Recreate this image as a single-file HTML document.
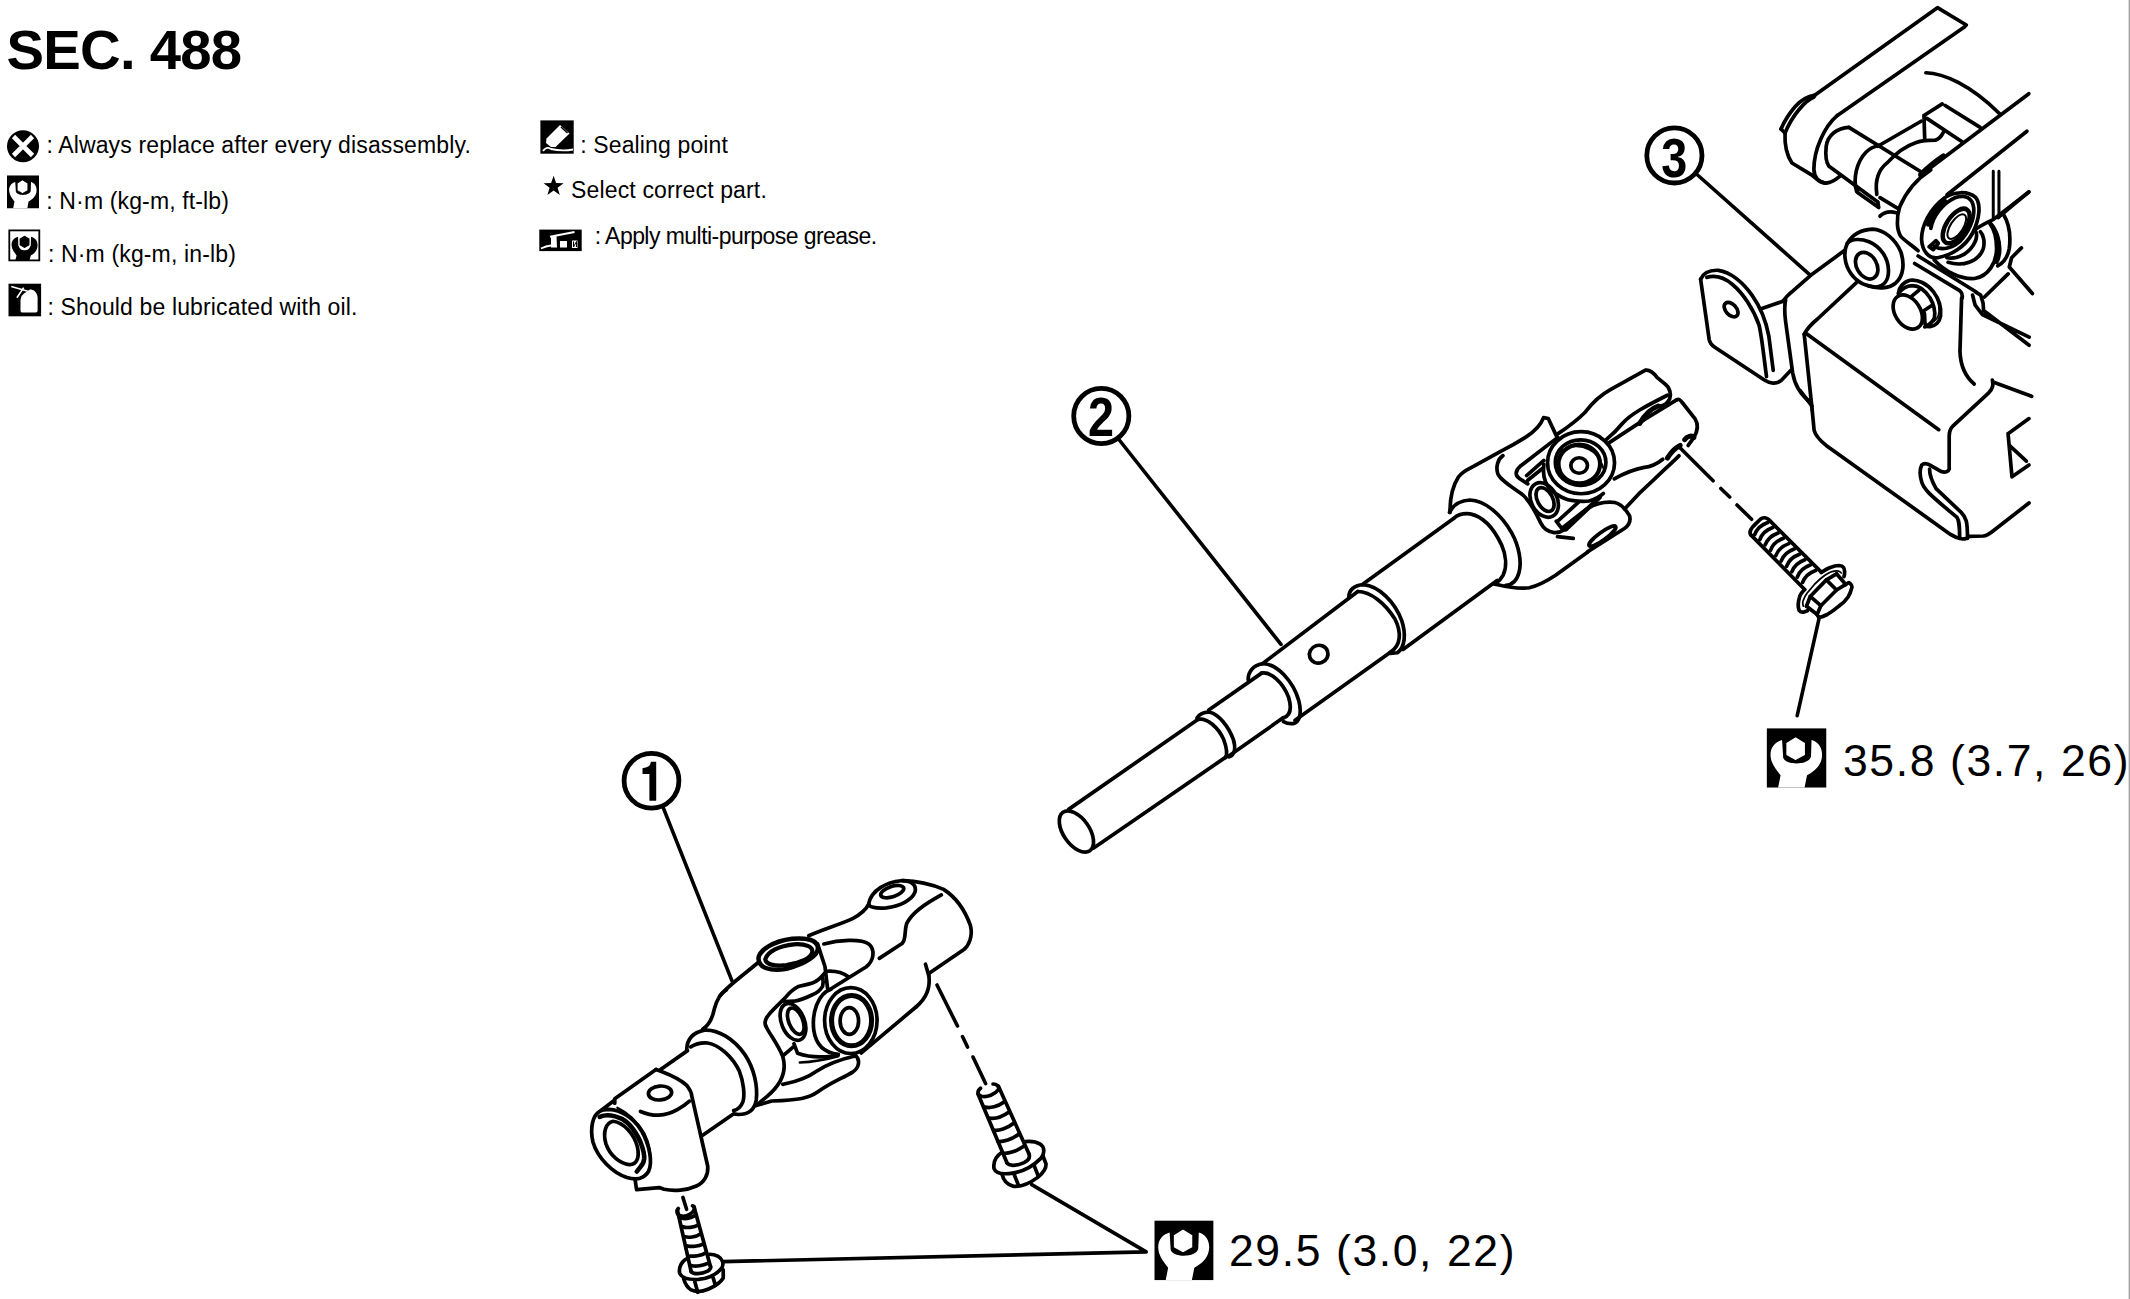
<!DOCTYPE html>
<html><head><meta charset="utf-8">
<style>
html,body{margin:0;padding:0;background:#fff;}
body{width:2130px;height:1299px;overflow:hidden;position:relative;font-family:"Liberation Sans",sans-serif;color:#000;}
.t{position:absolute;white-space:nowrap;line-height:1;}
.lg{font-size:23px;letter-spacing:0.14px;}
svg{position:absolute;left:0;top:0;}
</style></head><body>
<div class="t" style="left:6.6px;top:22px;font-size:56.3px;font-weight:bold;letter-spacing:-0.8px;">SEC. 488</div>
<div class="t lg" style="left:46.4px;top:134.3px;">: Always replace after every disassembly.</div>
<div class="t lg" style="left:46.3px;top:189.5px;">: N·m (kg-m, ft-lb)</div>
<div class="t lg" style="left:48px;top:243.3px;">: N·m (kg-m, in-lb)</div>
<div class="t lg" style="left:47.5px;top:295.6px;">: Should be lubricated with oil.</div>
<div class="t lg" style="left:580.2px;top:134.3px;">: Sealing point</div>
<div class="t lg" style="left:571.1px;top:178.8px;">Select correct part.</div>
<div class="t" style="left:594.7px;top:224.9px;font-size:23px;letter-spacing:-0.55px;">: Apply multi-purpose grease.</div>
<div class="t" style="left:1229px;top:1229px;font-size:44.5px;letter-spacing:1.6px;">29.5 (3.0, 22)</div>
<div class="t" style="left:1843px;top:738.5px;font-size:44.5px;letter-spacing:1.6px;">35.8 (3.7, 26)</div>
<svg width="2130" height="1299" viewBox="0 0 2130 1299">
<defs>
<symbol id="wr" viewBox="0 0 60 60" preserveAspectRatio="none">
<rect width="60" height="60" fill="#000"/>
<path fill="#fff" d="M15.5,12 C8,14 3.5,20 4,28 C4.5,36 10,42 14,47.5 L11.5,60 L38,60 L40.5,47.5 C47,44 55,38 55.5,28 C56,20 52,14 45,12 L44.5,28 C44,33 37,35.5 30,35.5 C23,35.5 16,33 16.5,28 Z"/>
<path fill="#fff" stroke="#000" stroke-width="1.6" d="M29,8.3 L39.2,14.4 L39.2,27.4 L29,32.9 L19,27.4 L19,14.4 Z"/>
</symbol>
<symbol id="wri" viewBox="0 0 60 60" preserveAspectRatio="none">
<path fill="#000" d="M17,11 C8,13 3.5,20 4,28 C4.5,36 10,42 14,47.5 L11.5,57 L40,57 L42.5,47.5 C49,44 56,38 56,28 C56.5,20 52,13 43,11 L42,27 C41.5,34 36,37.5 30,37.5 C24,37.5 18.5,34 18,27 Z"/>
<path fill="#000" stroke="#fff" stroke-width="2.2" d="M30,7.5 L41,14 L41,28 L30,34.5 L19,28 L19,14 Z"/>
</symbol>
</defs>
<g id="legend">
<circle cx="23" cy="146.2" r="16" fill="#000"/>
<path d="M13.5,136.5 L32.5,155.5 M32.5,136.5 L13.5,155.5" stroke="#fff" stroke-width="4.6"/>
<use href="#wr" x="7" y="175.3" width="32" height="33.2"/>
<rect x="9.3" y="230.4" width="30" height="30" fill="#fff" stroke="#000" stroke-width="1.8"/>
<use href="#wri" x="9.6" y="231.1" width="29.9" height="30.8"/>
<rect x="8.5" y="283.7" width="32.6" height="32.6" fill="#000"/>
<path fill="#fff" d="M20.5,300 L20.5,311 Q20.8,312.6 22.5,312.6 L35.8,312.6 Q37.6,312.6 37.6,310.8 L37.6,297.5 Q37.2,293 34,290.5 L30.5,289.2 L24,293.5 L21.5,296 Z"/>
<path d="M11.3,286.6 L30.4,292 M16.9,297.7 L23.7,287.6" stroke="#fff" stroke-width="1.6" fill="none"/>
<rect x="540.4" y="120.4" width="33.3" height="33.3" fill="#000"/>
<path fill="#fff" d="M546.5,138.5 L560,125 L569.5,133.5 L555.5,147 L551,147 L546,143 Z"/>
<path d="M561,127 L567.5,133" stroke="#000" stroke-width="1.4"/>
<path d="M543,151 Q546,146 551,149 Q562,151.5 573,149.5" stroke="#fff" stroke-width="1.8" fill="none"/>
<path fill="#000" d="M553.6,175.8 L556.1,183 L563.6,183.2 L557.6,187.8 L559.8,195 L553.6,190.6 L547.4,195 L549.6,187.8 L543.6,183.2 L551.1,183 Z"/>
<rect x="539.3" y="229.6" width="42.4" height="21.5" fill="#000"/>
<path d="M550,236.8 L574.5,232" stroke="#fff" stroke-width="2" fill="none"/>
<path fill="#fff" d="M551,237 L556.5,236 L557,247.5 L551,247.5 Z M560,241 L567,241 L567,247.5 L560,247.5 Z M572,240.5 L577.5,240.5 L577.5,248 L572,248 Z"/>
<path d="M541,248.5 Q546,246 551,245.5" stroke="#fff" stroke-width="1.8" fill="none"/>
<path d="M573.5,241.5 L573.5,247 L576.5,241.5 L576.5,247" stroke="#000" stroke-width="1" fill="none"/>
<use href="#wr" x="1154.3" y="1220.4" width="59.3" height="59.9"/>
<use href="#wr" x="1766.6" y="728.2" width="59.9" height="59.5"/>
</g>
<g id="drawing" fill="none" stroke="#000" stroke-width="3.7" stroke-linecap="round" stroke-linejoin="round">
<g id="callouts">
<g stroke-width="4.8">
<circle cx="651.5" cy="780.7" r="27.4"/>
<circle cx="1101.3" cy="416" r="27.6"/>
<circle cx="1674.4" cy="155.4" r="27.6"/>
</g>
<g stroke="none" fill="#000" font-family="Liberation Sans" font-weight="bold" font-size="55" text-anchor="middle">
<path d="M650.8,761.7 L656.2,761.7 L656.2,800.8 L649.4,800.8 L649.4,774.1 L642.5,774.1 L642.5,768.2 C645.5,767.8 648,767 649.5,765.5 C650.3,764.5 650.8,763 650.8,761.7 Z"/>
<text x="1101" y="436.3" transform="translate(1101 0) scale(0.85 1) translate(-1101 0)">2</text>
<text x="1674.3" y="177" transform="translate(1674.3 0) scale(0.85 1) translate(-1674.3 0)">3</text>
</g>
</g>
<g id="leaders" stroke-width="3.6">
<path d="M663.3,807.9 L732,980.9"/>
<path d="M1119.3,440 L1281,644.4"/>
<path d="M1697.6,175 L1810.2,275.1"/>
<path d="M1819.3,617.3 L1797.2,715.7"/>
<path d="M723.2,1261.6 L1146.2,1251.9 L1031.7,1184.6"/>
<path d="M1680,447.7 L1713.1,480.8 M1720.8,488.5 L1729.7,497 M1737,505 L1751.6,519.3"/>
<path d="M937,985 L957.5,1026 M962.5,1036.6 L967.5,1047.1 M973,1057 L985.6,1083.6"/>
<path d="M682.9,1197.4 L686.6,1209.3"/>
</g>
<!-- shaft item 2 -->
<ellipse cx="1076.41" cy="831.5" rx="13.01" ry="23.37" transform="rotate(-35 1076.41 831.5)"/>
<path d="M1068.63,809.38 L1198.2,719.27 M1093.7,847.99 L1226.15,756.87"/>
<path d="M1198.1,719.35 C1207.47,717.58 1218.79,728.08 1223.64,739.39 C1226.87,748.28 1227.19,754.75 1225.58,757.49"/>
<path d="M1196.97,718.06 C1199.39,714.34 1204.24,711.92 1209.9,712.24 C1218.79,714.34 1228.48,726.46 1233.33,739.39 C1235.76,747.47 1234.95,754.75 1229.29,756.85"/>
<path d="M1208.77,709.98 L1261.62,673.13 M1228.48,756.36 L1283.43,717.58"/>
<path d="M1261.62,673.13 C1270.5,671.19 1283.43,682.83 1288.61,697.37 C1291.84,707.88 1290.71,715.15 1283.43,717.9"/>
<path d="M1248.2,679.92 C1247.88,671.52 1253.54,665.05 1262.42,663.76 C1276.97,663.43 1293.13,681.21 1298.79,700.61 C1302.02,713.54 1299.6,722.42 1293.13,723.56 C1289.9,724.04 1285.86,722.91 1283.43,721.62"/>
<path d="M1262.42,663.76 L1357.78,591.52 M1295.07,720.32 L1390.1,652.44"/>
<ellipse cx="1318.67" cy="654.22" rx="9.37" ry="8.89" transform="rotate(-20 1318.67 654.22)"/>
<path d="M1348.89,596.85 C1348.89,589.9 1354.55,585.05 1363.43,584.57 C1378.79,585.86 1394.95,602.02 1401.74,620.61 C1406.26,634.34 1404.97,647.27 1397.37,652.77 L1390.1,653.41"/>
<path d="M1357.78,591.52 C1370.71,591.52 1385.25,603.64 1394.95,618.99 C1401.41,631.92 1401.41,645.66 1390.1,652.44"/>
<path d="M1362.7,584.2 L1453.9,518.3 M1403,649.4 L1497.1,580.4"/>
<!-- ujoint of shaft 2 -->
<path d="M1449.51,512.41 C1453.17,505.1 1459.75,500.42 1469.99,499.98 C1485.35,500.71 1501.45,514.61 1511.69,532.9 C1519.01,546.06 1521.93,562.16 1519.01,572.4 C1516.81,580.45 1511.69,584.84 1505.84,585.27"/>
<path d="M1453.9,518.27 C1458.29,514.17 1463.41,513.15 1469.99,513.88 C1483.89,516.51 1494.43,529.97 1501.45,544.6 C1506.13,555.14 1507.01,566.84 1503.2,575.03 C1500.28,580.45 1497.35,582.35 1494.86,584.1"/>
<path d="M1449.95,512.41 C1449.95,500.71 1452.44,486.08 1458.43,477.01 C1461.95,472.18 1466.34,469.99 1470.72,467.79 L1501.59,450.82 C1510.23,446.58 1519.01,441.46 1526.17,436.92 C1533.64,431.95 1540.95,424.63 1543.58,417.61 L1548.27,418.49 L1556.31,435.6"/>
<path d="M1494.86,584.1 C1504.37,586.3 1516.08,589.66 1529.25,587.76 C1539.49,585.57 1546.8,581.18 1555.58,575.33 L1587.77,551.92"/>
<path d="M1502.91,455.65 C1497.79,459.01 1495.6,467.06 1497.79,473.64 C1499.99,479.5 1510.23,486.08 1521.93,494.13 C1529.25,499.98 1535.1,510.95 1540.95,523.39 C1542.41,526.31 1545.34,531.43 1554.12,532.6 C1558.51,532.9 1562.17,531.43 1565.53,529.24"/>
<path d="M1557.48,536.7 L1573.28,538.46"/>
<path d="M1557.78,437.36 L1520.18,466.33 C1514.91,470.72 1514.91,475.84 1519.74,478.76 L1527.78,483.88"/>
<path d="M1543.88,460.48 L1526.61,475.55 M1542.71,468.23 L1527.78,480.23"/>
<ellipse cx="1581.04" cy="462.74" rx="33.5" ry="31.02"/>
<ellipse cx="1580.6" cy="462.61" rx="25.31" ry="22.82"/>
<path d="M1559.09,452.58 C1564.36,448.33 1568.75,446.58 1575.33,446.28 C1584.84,445.99 1595.08,450.97 1600.21,460.48 C1602.11,464.13 1603.13,467.06 1603.42,468.52" stroke-width="1.8"/>
<ellipse cx="1579.28" cy="463.99" rx="20.78" ry="19.46" stroke-width="4.2"/>
<ellipse cx="1579.14" cy="465.52" rx="8.34" ry="7.75"/>
<path d="M1543.88,464.28 C1542.85,471.45 1543.88,480.23 1547.97,486.52 C1551.92,491.2 1555.58,494.13 1557.78,494.86 C1562.9,498.52 1567.29,499.98 1571.53,500.42 C1578.99,501.44 1584.84,501.44 1588.94,501 C1595.08,499.54 1600.21,496.32 1603.42,493.39"/>
<ellipse cx="1544.17" cy="499.98" rx="12.87" ry="18.29" transform="rotate(-28 1544.17 499.98)"/>
<ellipse cx="1545.05" cy="499.54" rx="7.61" ry="12.87" transform="rotate(-28 1545.05 499.54)"/>
<path d="M1556.17,521.19 L1563.04,530.12"/>
<path d="M1558.51,520.46 L1578.26,502.47"/>
<path d="M1565.82,529.24 L1599.62,497.34" stroke-width="4.5"/>
<path d="M1563.63,527.04 L1586.31,509.2 C1595.08,503.64 1605.33,501.44 1614.84,502.47 C1620.25,503.64 1625.81,509.49 1629.47,515.63 C1630.93,520.75 1628.73,525.58 1624.35,528.51 L1587.77,551.62"/>
<ellipse cx="1602.4" cy="536.12" rx="16.39" ry="3.8" transform="rotate(-36 1602.4 536.12)"/>
<path d="M1557.71,433.89 C1568.1,426.97 1578.49,418.88 1585.42,411.96 C1592.35,402.72 1599.28,395.79 1610.82,389.44 L1645.46,370.16 C1650.08,369.24 1653.54,372.7 1657.01,377.32 L1663.93,383.09 C1670.28,387.71 1671.44,394.64 1669.71,398.68 C1667.97,402.72 1663.93,405.61 1659.32,406.18"/>
<path d="M1606.2,439.67 C1613.13,433.89 1617.75,429.28 1622.37,423.5 C1630.45,414.27 1645.46,406.18 1667.4,395.22"/>
<path d="M1608.51,443.13 L1645.46,418.88 L1676.63,399.83"/>
<path d="M1639.69,423.5 C1644.31,415.42 1651.23,408.49 1658.16,406.18" stroke-width="5"/>
<path d="M1676.63,399.83 C1678.94,398.68 1680.1,399.83 1682.41,402.72 L1695.11,418.88 C1697.99,423.5 1697.99,430.43 1693.95,437.36 L1688.18,445.44"/>
<path d="M1684.72,439.67 C1687.03,436.2 1691.64,435.05 1693.95,437.36" stroke-width="5"/>
<path d="M1614.29,478.92 C1622.37,474.31 1631.6,469.69 1644.31,467.38 C1652.39,466.8 1657.01,463.91 1662.78,459.3"/>
<path d="M1667.4,458.14 C1670.86,452.37 1675.48,447.75 1680.1,445.44" stroke-width="5"/>
<path d="M1624.68,508.94 C1633.91,498.55 1645.46,487.01 1654.7,478.92 C1662.78,470.84 1670.86,463.91 1678.94,455.83"/>
<!-- item 1 ujoint -->
<path d="M599.4,1111.58 C592.93,1115.3 589.7,1127.43 592.93,1141.98 C597.78,1158.15 612.34,1172.7 626.89,1177.55 C636.59,1180.46 644.67,1178.36 648.71,1171.08 C652.76,1161.38 649.52,1145.21 641.44,1130.66 C633.35,1117.73 620.42,1109.64 609.1,1109.32 C604.25,1109.32 601.02,1110.29 599.4,1111.58 Z"/>
<path d="M613.14,1121.28 C605.87,1122.58 602.64,1132.28 605.87,1143.6 C609.91,1155.72 620.42,1163.81 629.31,1164.62 C636.59,1164.94 639.82,1158.15 637.4,1146.83 C634.16,1133.9 623.65,1122.58 613.14,1121.28 Z"/>
<path d="M617.35,1107.7 C628.5,1112.88 638.21,1122.58 644.67,1133.9 C649.52,1143.6 651.14,1154.91 650.33,1164.62 C649.52,1171.08 645.48,1175.93 638.53,1179.17" stroke-width="2.2"/>
<path d="M599.73,1116.92 C604.25,1114.82 612.34,1114.49 621.88,1118.86 C626.89,1121.77 630.12,1125 633.03,1129.05 C636.59,1133.9 639.82,1139.55 641.44,1144.73 C643.38,1150.06 644.35,1154.91 644.19,1158.63 C643.86,1162.19 642.73,1164.62 640.47,1166.88 L636.75,1171.57" stroke-width="4.6"/>
<path d="M601.02,1110.45 L614.76,1099.94 L614.76,1103.18 M614.76,1098.65 L655.99,1069.55"/>
<path d="M655.99,1069.55 L660.84,1071.16 C670.54,1074.88 680.24,1078.92 686.71,1085.39 C691.56,1091.86 691.56,1095.09 691.56,1095.09 L707.73,1166.23 C708.54,1174.32 704.49,1182.4 696.41,1185.96 C686.71,1190.48 673.77,1191.29 664.07,1189.19 L659.22,1187.57 L636.59,1189.68 L634.97,1178.84"/>
<path d="M659.55,1070.19 L687.52,1050.63"/>
<ellipse cx="660.03" cy="1092.99" rx="11.64" ry="6.95" transform="rotate(-5 660.03 1092.99)"/>
<path d="M640.47,1111.42 C647.91,1114.49 654.37,1115.3 658.9,1115.14 C665.69,1114.82 672.16,1112.55 677.33,1109.64 C681.86,1107.22 685.9,1104.47 689.46,1101.24"/>
<path d="M701.26,1136.32 L732.3,1114.82"/>
<path d="M686.71,1049.5 C687.03,1038.5 693.18,1032.36 704.49,1030.1 C717.43,1029.13 733.6,1038.5 744.91,1054.67 C754.62,1069.22 757.85,1087.01 756.23,1099.94 C754.62,1109.97 748.15,1114.49 738.45,1114.49 L733.6,1113.85"/>
<path d="M690.75,1046.91 C696.41,1043.35 702.88,1042.55 707.73,1043.03 C719.05,1044.97 731.98,1056.29 739.26,1070.84 C743.62,1082.16 744.91,1095.09 742.97,1101.56 C740.87,1107.22 737.64,1109.64 733.6,1110.61"/>
<path d="M702.88,1029.13 C709.34,1024.76 712.58,1017.49 714.2,1009.4 C716.62,999.7 720.66,993.23 726.32,990"/>
<path d="M720,995.66 C727.39,986.42 738.48,979.03 757.88,962.77"/>
<path d="M808.7,935.79 C823.48,929.13 840.11,924.51 853.05,918.42 C860.44,914.35 865.99,909.73 868.76,904.19"/>
<path d="M868.76,903.26 C871.53,890.33 886.31,882.01 901.1,880.72 C912.18,880.16 916.8,885.71 914.96,892.18 C912.18,899.57 901.1,906.03 886.31,907.88 C875.23,908.81 867.83,906.96 868.76,903.26 Z"/>
<ellipse cx="892.23" cy="891.62" rx="12.01" ry="5.17" transform="rotate(-18 892.23 891.62)"/>
<path d="M902.94,880.72 C915.88,881.09 932.51,884.78 943.6,889.4 C956.53,897.72 965.77,912.5 970.39,925.44 C973.17,936.53 968.55,945.76 963.93,949.46 L928.81,973.48"/>
<path d="M925.49,964.24 L928.81,975.7"/>
<path d="M928.81,975.33 C930.66,988.27 925.12,999.35 916.25,1006.75"/>
<path d="M879.29,958.33 L902.02,943.55 C906.64,939.3 903.87,931.91 906.64,923.59 C912.18,912.5 923.27,905.11 941.38,894.95"/>
<path d="M823.85,943.92 C838.27,940.22 860.44,938.37 868.76,943.92 C875.23,949.46 874.3,960.55 865.99,967.02 L829.4,989.75"/>
<path d="M758.44,958.33 C759.73,949.46 773.59,941.14 792.07,938.74 C806.85,937.45 817.02,940.22 817.94,947.61 C818.31,955 806.85,963.32 786.53,968.86 C769.89,971.64 758.81,967.94 758.44,958.33 Z" stroke-width="4.5"/>
<path d="M765.27,959.07 C767.68,951.31 779.13,945.76 793.92,944.29 C805.93,943.55 812.77,946.69 812.4,951.68 C811.47,957.78 801.31,962.4 786.53,965.17 C773.59,966.46 765.83,964.24 765.27,959.07 Z" stroke-width="4.2"/>
<path d="M817.57,943.92 L824.96,966.46 L827.55,988.27"/>
<path d="M824.41,973.48 C819.79,979.03 816.09,981.8 812.4,983.09 C806.85,984.94 801.31,985.5 798.54,986.42 C792.99,989.19 788.37,993.81 784.68,998.43 C777.29,1005.82 770.82,1011.37 767.12,1016.91 C764.9,1020.05 764.53,1023.01 765.64,1025.59"/>
<path d="M827.18,971.27 C836.42,970.71 842.89,972.56 848.43,976.81"/>
<path d="M830.88,989.19 C817.94,993.44 811.47,1013.21 813.87,1030.77 C816.09,1045.55 825.33,1052.94 838.27,1054.42"/>
<ellipse cx="850.83" cy="1020.61" rx="26.24" ry="32.89"/>
<ellipse cx="851.57" cy="1020.61" rx="20.7" ry="25.87"/>
<ellipse cx="851.57" cy="1020.61" rx="18.48" ry="23.65" stroke-width="2"/>
<ellipse cx="849.35" cy="1020.98" rx="9.24" ry="13.31"/>
<ellipse cx="792.99" cy="1021.9" rx="11.46" ry="19.4" transform="rotate(-22 792.99 1021.9)"/>
<ellipse cx="795.76" cy="1021.16" rx="7.02" ry="13.86" transform="rotate(-22 795.76 1021.16)"/>
<path d="M822.56,977.18 C823.48,980.88 823.11,984.57 822.56,986.42 C819.79,991.04 816.09,993.44 812.4,994.73 C806.85,997.51 799.46,1000.28 793.92,1001.2 L784.68,1001.57"/>
<path d="M793.92,1043.7 L797.61,1053.31 C806.85,1056.64 819.79,1057.56 830.88,1056.27 L838.27,1054.79"/>
<path d="M765.64,1025.59 C768.97,1033.54 777.29,1042.78 782.83,1056.64 C786.53,1069.58 783.75,1082.51 767.12,1096.37 L756.03,1105.61"/>
<path d="M782.83,1084.36 C790.22,1082.51 803.16,1080.66 816.09,1071.42 C827.18,1064.03 840.11,1059.41 855.82,1055.72 C860.44,1060.34 858.96,1067.73 853.05,1071.79 C841.96,1078.45 830.88,1082.51 817.94,1091.75 C808.7,1098.22 799.46,1100.07 771.74,1100.99 L757.88,1105.06"/>
<path d="M799.83,1062.55 C808.7,1062.18 823.48,1060.34 838.27,1056.27" stroke-width="2.6"/>
<path d="M861.37,1052.94 L916.25,1006.75"/>
<path d="M782.83,1055.9 L793.36,1046.85"/>
<!-- bolts -->
<path d="M677.41,1210.24 L691.16,1271.64 M693.91,1206.58 L710.4,1266.14"/>
<path d="M678.33,1208.41 C675.58,1212.07 677.41,1215.74 681.99,1216.2 C687.49,1216.66 692.99,1213.45 694.36,1209.32 C694.82,1207.49 693.45,1206.12 692.53,1205.84"/>
<path d="M681.08,1218.03 C684.74,1218.95 691.16,1218.49 696.2,1214.82 M682.91,1226.74 C686.58,1228.11 693.91,1227.65 698.49,1224.9 M684.74,1236.82 C688.41,1237.73 695.74,1237.27 700.32,1234.07 M687.49,1245.98 C691.16,1246.9 698.49,1246.44 703.07,1244.15 M690.24,1256.06 C693.91,1256.52 701.24,1255.6 704.9,1253.31 M692.07,1265.68 C695.74,1266.6 703.07,1265.68 707.65,1263.39"/>
<path d="M691.16,1271.64 C692.99,1274.39 701.24,1274.39 707.65,1271.18 C710.4,1269.35 711.32,1267.51 710.4,1266.14"/>
<path d="M687.49,1258.35 C681.99,1260.64 678.33,1267.06 679.7,1273.47 C681.99,1278.05 689.32,1279.89 698.49,1279.43 C707.65,1278.51 716.82,1274.39 721.86,1267.97 C724.15,1263.39 722.31,1258.81 717.73,1256.06 C714.98,1254.68 712.23,1254.23 709.48,1254.23"/>
<path d="M683.64,1278.79 C684.74,1282.63 686.58,1287.22 691.16,1289.97 C695.74,1292.26 702.15,1291.8 708.57,1289.05 C714.98,1286.3 720.48,1282.63 723.23,1278.05 L723.23,1269.81"/>
<path d="M694.82,1281.72 L697.75,1292.26 M713.15,1277.87 L715.44,1285.38"/>
<path d="M978.02,1094.02 L1007.05,1163.09 M998.54,1086.52 L1029.07,1154.08"/>
<path d="M980.52,1088.22 C977.02,1091.02 977.02,1095.03 981.52,1096.23 C987.03,1097.53 995.03,1094.52 998.54,1089.52 C999.54,1087.02 997.04,1084.01 993.03,1084.01"/>
<path d="M985.02,1107.04 C990.03,1108.54 998.04,1106.54 1004.04,1102.03 M989.03,1118.05 C994.03,1119.05 1002.04,1117.05 1009.05,1112.04 M993.53,1130.06 C998.54,1131.06 1007.05,1128.56 1014.05,1123.05 M998.04,1141.57 C1003.04,1142.07 1012.05,1139.57 1019.06,1134.06 M1003.04,1153.28 C1008.05,1154.08 1017.06,1151.08 1024.06,1146.08"/>
<path d="M1007.05,1163.09 C1009.05,1166.1 1016.06,1166.1 1024.06,1162.59 C1029.07,1160.09 1030.07,1157.09 1029.07,1154.08"/>
<path d="M1002.04,1152.28 C996.04,1156.09 993.03,1162.09 994.03,1168.6 C996.04,1174.1 1004.04,1174.6 1014.05,1172.9 C1024.06,1171.1 1034.07,1165.1 1041.08,1158.09 C1045.09,1153.08 1044.58,1147.08 1040.08,1144.07 C1036.08,1141.57 1030.07,1141.07 1025.07,1141.57"/>
<path d="M1002.04,1174.1 C1003.04,1179.11 1006.05,1184.11 1013.05,1186.12 C1021.06,1187.12 1030.07,1183.11 1038.08,1177.11 C1043.08,1173.1 1046.09,1169.1 1046.09,1164.09 L1043.08,1156.29"/>
<path d="M1014.05,1174.3 L1018.06,1184.11 M1034.07,1165.3 L1038.28,1176.11"/>
<path d="M1751.09,535.13 C1749.24,533.09 1749.7,530.32 1752.93,526.63 L1760.32,519.24 C1763.09,516.93 1766.79,517.39 1769.56,520.35 L1821.29,572.08"/>
<path d="M1751.09,535.13 L1804.67,589.45"/>
<path d="M1754.78,534.48 C1756.63,529.4 1761.25,524.78 1767.71,522.47 M1759.86,539.56 C1761.71,534.48 1766.33,529.86 1772.79,527.55 M1765.13,544.92 C1766.97,539.84 1771.59,535.22 1778.06,532.91 M1770.49,550.28 C1772.33,545.2 1776.95,540.58 1783.42,538.27 M1775.84,555.64 C1777.69,550.55 1782.31,545.94 1788.78,543.63 M1781.2,560.99 C1783.05,555.91 1787.67,551.29 1794.13,548.98 M1786.56,566.35 C1788.41,561.27 1793.03,556.65 1799.49,554.34 M1791.92,571.71 C1793.76,566.63 1798.38,562.01 1804.85,559.7 M1797.27,577.07 C1799.12,571.99 1803.74,567.37 1810.21,565.06 M1802.63,582.43 C1804.48,577.34 1809.1,572.73 1815.57,570.42"/>
<path d="M1804.67,589.45 C1801.89,592.22 1800.05,594.53 1799.58,596.93 C1798.2,601.46 1797.46,606.07 1799.12,610.32 C1800.51,612.08 1801.89,612.36 1803.28,612.17 L1807.44,610.79"/>
<path d="M1821.29,572.45 C1824.99,570.05 1827.3,568.75 1829.61,567.83 C1833.3,566.35 1836.54,565.52 1838.85,565.52 C1841.16,565.7 1842.73,566.35 1843.46,567.37 C1844.85,569.12 1845.03,573.74 1843.93,576.61"/>
<path d="M1803.28,606.17 C1802.63,603.3 1802.45,602.38 1802.82,601.55 C1804.2,597.76 1805.13,595.45 1806.97,593.23 L1814.37,584.46 C1817.6,581.13 1820.37,578.36 1823.6,576.14 C1826.37,574.2 1829.15,572.36 1831.92,571.52 C1835.15,570.79 1837,570.79 1838.38,571.06 C1839.77,571.43 1840.69,572.08 1841.16,572.91" stroke-width="1.8"/>
<path d="M1806.51,606.17 L1810.21,596.47 L1826.37,579.84 L1836.54,573.83"/>
<path d="M1817.14,614.48 L1820.83,605.7 L1836.54,590 L1845.77,584.46"/>
<path d="M1806.51,606.17 L1817.14,614.48 M1810.21,596.47 L1820.83,605.7 M1826.37,579.84 L1836.54,590 M1836.54,573.83 L1845.77,584.46"/>
<path d="M1845.77,584.46 C1847.16,583.44 1848.27,582.61 1849.01,582.61 C1851.32,583.9 1852.24,586.67 1851.78,587.69 C1850.85,591.29 1849.93,594.06 1848.08,596.93 C1845.31,600.99 1842.54,603.76 1838.85,606.17 C1835.15,609.31 1831.46,612.08 1827.3,614.48 C1824.06,616.05 1821.29,617.16 1818.98,617.25 C1818.06,616.7 1817.41,615.77 1817.14,614.48"/>
<!-- item 3 -->
<path d="M1815.03,95.07 L1937.44,7.7 L1966.31,25.02 L1964,27.33 L1837.36,115.47"/>
<path d="M1780.97,128.95 C1784.43,121.25 1789.25,113.55 1795.02,106.81 C1800.79,100.08 1807.53,96.23 1815.03,95.07"/>
<path d="M1785.01,132.99 C1788.28,125.1 1794.06,115.47 1798.87,109.7 C1803.68,103.93 1808.49,99.11 1814.07,97"/>
<path d="M1780.97,128.95 L1785.01,132.99"/>
<path d="M1785.01,132.99 C1784.63,142.42 1785.78,153.96 1791.94,163.01 L1811.96,175.13 C1815.23,178.02 1819.08,181.87 1825.04,183.03 C1829.66,183.22 1835.44,179.95 1840.05,176.1"/>
<path d="M1837.36,115.47 C1823.89,127.02 1813.88,150.12 1813.88,169.36 C1814.26,178.02 1819.08,182.45 1825.81,183.22"/>
<path d="M1848.91,127.41 L1920.12,171.29"/>
<path d="M1848.91,127.41 C1837.36,127.98 1827.74,134.72 1826.2,146.27 C1825.43,153.96 1825.81,161.66 1828.7,165.9 L1877.78,202.08"/>
<path d="M1856.61,191.49 C1852.76,178.98 1856.61,161.66 1866.23,152.04 C1870.08,148.19 1874.89,146.27 1879.7,145.3"/>
<path d="M1876.81,194.38 C1874.89,180.91 1878.74,169.36 1887.4,162.63 C1895.1,153.96 1904.72,146.27 1916.27,142.42 C1922.04,140.49 1929.74,140.11 1935.51,140.11 C1939.36,138.95 1941.67,135.68 1943.21,132.6"/>
<path d="M1877.78,146.27 L1921.08,121.25"/>
<path d="M1923.96,115.47 L1942.25,103.93 M1945.13,105.47 L1980.16,127.41 M1926.85,118.36 L1962.46,142.03 M1923.96,115.47 L1924.73,139.72"/>
<path d="M1921.08,174.17 C1927.81,167.82 1935.51,161.28 1943.21,156.27" stroke-width="5.5"/>
<path d="M1925.89,72.75 C1943.21,73.13 1970.15,84.68 1999.41,113.55"/>
<path d="M1920.12,175.52 L2028.85,93.73 M1947.06,194.77 L2026.93,131.25 M1998.06,217.48 L2028.85,191.88"/>
<path d="M1993.25,171.29 L1993.25,217.48 M1999.02,171.29 L1999.02,217.48" stroke-width="2.6"/>
<path d="M1857.57,189.57 L1857.57,192.46 L1878.74,207.47 L1877.78,202.08"/>
<path d="M1930.79,170 C1918.1,178.08 1906.55,190.78 1899.62,206.94 C1896.16,218.48 1896.74,230.03 1900.78,236.38 C1905.4,241.57 1912.32,245.04 1918.1,250.81"/>
<path d="M1880,197.71 L1897.32,208.1"/>
<path d="M1880,216.18 C1883.46,212.71 1889.24,210.98 1896.16,212.71"/>
<path d="M1921.56,239.26 C1921.56,225.41 1929.64,209.25 1944.65,197.71 C1953.88,191.93 1967.73,190.2 1975.82,197.71 C1981.01,204.63 1979.86,218.48 1972.35,233.49 C1965.43,246.19 1951.57,255.43 1937.72,257.73 C1928.48,258.89 1922.14,250.81 1921.56,239.26 Z"/>
<path d="M1930.79,228.3 C1933.1,216.18 1942.34,203.48 1955.04,197.71 C1965.43,194.24 1972.35,197.71 1973.74,208.1 C1974.66,218.48 1968.89,232.34 1959.65,241.57 C1951.57,248.5 1941.18,250.81 1934.26,246.19"/>
<path d="M1928.48,224.26 C1930.79,216.18 1936.57,206.94 1944.65,201.17" stroke-width="5"/>
<ellipse cx="1956.19" cy="225.99" rx="9.81" ry="19.62" transform="rotate(33 1956.19 225.99)" stroke-width="4.5"/>
<ellipse cx="1956.77" cy="226.57" rx="6.35" ry="14.08" transform="rotate(33 1956.77 226.57)" stroke-width="2"/>
<path d="M1929.06,246.77 L1935.99,240.65 L1938.3,243.3 L1933.33,249.65 Z"/>
<path d="M1946.96,257.73 C1958.5,259.47 1970.04,253.12 1975.24,241.57 C1976.97,236.96 1976.74,233.49 1975.82,231.76"/>
<path d="M1948.11,262.35 C1963.12,266.97 1979.28,261.2 1983.32,248.5 C1985.05,241.57 1983.32,234.65 1980.43,231.76"/>
<path d="M1934.26,260.04 C1944.65,271.59 1960.81,279.67 1974.66,278.51 C1988.51,276.2 1996.59,262.35 1996.59,248.5 C1996.59,236.96 1993.13,227.72 1989.67,223.1"/>
<path d="M1990.25,223.1 C1996.59,230.03 2000.63,241.57 1999.48,253.12 C1998.67,257.73 1997.75,261.2 1996.59,262.35"/>
<path d="M2003.52,214.44 C2008.14,221.95 2011.02,234.65 2009.29,248.5 C2007.56,257.73 2002.37,263.51 1997.75,265.82"/>
<path d="M1993.13,171.15 L1993.13,218.48 M1998.9,171.15 L1998.9,216.18" stroke-width="2.6"/>
<path d="M1975.82,228.87 C1981.59,225.41 1987.36,221.95 1993.13,219.64 L2028.92,191.93"/>
<path d="M1914.63,263.51 L1959.65,290.63 C1961.96,292.37 1962.54,294.68 1962.19,298.14"/>
<path d="M1918.1,256 L1975.82,291.79"/>
<path d="M2021.41,247.92 L2011.6,257.73 L2009.29,266.97 L2032.38,293.52 M1984.47,296.98 L2008.14,273.9"/>
<path d="M1847.28,243.36 C1852.93,233.65 1862.64,229.61 1872.34,229.13 C1883.65,229.61 1894.97,238.5 1900.63,251.44 C1904.67,262.76 1903.86,275.69 1895.78,282.97 C1888.5,288.95 1877.19,289.43 1867.49,285.39"/>
<path d="M1847.28,243.36 C1843.23,251.44 1844.04,264.37 1851.32,274.07 C1857.79,282.97 1867.49,287.01 1875.57,287.01 C1883.65,286.69 1888.5,280.54 1888.5,270.84 C1888.5,257.91 1880.42,246.59 1869.1,241.74 C1861.02,238.5 1851.32,238.5 1847.28,243.36 Z"/>
<ellipse cx="1866.68" cy="265.67" rx="10.02" ry="14.23" transform="rotate(-30 1866.68 265.67)"/>
<path d="M1961.58,298 L1959.97,351.68 C1960.45,364.62 1964.5,375.93 1974.2,384.02"/>
<path d="M1975.81,292.18 L1980.66,295.09 L1983.09,303.18 L1983.57,310.45 L2029.17,345.21 M1972.58,295.09 L1975,304.79 L1982.28,314.5 L2029.17,337.13"/>
<path d="M1700.62,279.15 C1703.28,272.95 1709.48,269.94 1718.33,270.3 C1730.72,272.07 1743.12,282.69 1751.97,295.09 C1760.82,307.48 1766.13,321.64 1768.79,335.81 L1773.22,370.33"/>
<path d="M1700.62,279.15 L1709.12,339.35 C1709.83,342.89 1712.13,345.55 1714.79,347.32 L1764.36,380.07 C1769.67,383.61 1776.76,384.5 1781.18,380.43 L1790.92,370.33"/>
<path d="M1706.82,277.38 C1713.02,275.61 1721.87,275.61 1732.49,284.46 C1743.12,293.31 1753.74,309.25 1759.05,325.18 C1761.71,335.81 1762.95,349.97 1766.49,376.53"/>
<ellipse cx="1731.08" cy="309.6" rx="8.5" ry="5.31" transform="rotate(48 1731.08 309.6)"/>
<path d="M1762.59,308.36 L1782.95,301.28"/>
<path d="M1785.61,300.04 C1783.84,307.48 1784.72,314.56 1785.61,321.64 L1792.69,372.99 C1794.46,383.61 1799.77,394.24 1810.4,402.2"/>
<path d="M1782.95,301.28 C1785.61,297.74 1788.26,294.2 1792.69,291.19 L1810.4,275.61 L1844.04,250.82"/>
<path d="M1804.2,334.39 L1812.17,409.99"/>
<path d="M1804.2,334.39 C1806.86,328.73 1812.17,323.41 1817.48,318.99 L1856.43,282.69"/>
<path d="M1806.86,334.04 L1938.76,429.65"/>
<path d="M1812.17,409.97 L1814.13,430.38 C1815.7,436.27 1819.63,440.19 1826.17,445.43 L1950.48,534.41 C1954.41,537.03 1957.03,538.34 1962.26,538.99 C1966.19,538.99 1968.15,537.68 1968.8,536.37 L1983.2,535.98 C1987.12,535.72 1989.74,533.76 1993.67,530.48 L2029,503"/>
<path d="M1800,390.47 L1812.04,406.17"/>
<path d="M1992.36,380 C1993.41,385.23 1993.01,388.51 1988.43,393.09 L1953.1,425.8 C1949.83,429.07 1949.18,432.34 1949.18,436.27 L1949.18,468.98 C1948.52,471.6 1945.25,472.91 1941.32,471.6 L1932.16,466.36 C1928.24,463.75 1924.31,462.44 1921.7,465.06 C1919.73,468.98 1919.73,475.52 1921.7,482.07 C1923.66,488.61 1926.93,492.54 1957.03,517.4 C1958.99,520.67 1959.64,523.94 1959.64,538.34"/>
<path d="M1929.55,468.98 C1929.55,474.22 1930.86,479.45 1936.09,488.61 L1960.95,512.16 C1966.19,517.4 1967.5,521.32 1967.5,538.34"/>
<path d="M2008.06,433.65 L2029,418.6 M2008.06,433.65 L2011.99,476.83 L2029,465.06 M2009.37,445.43 L2026.38,461.13"/>
<path d="M1993.67,382.36 L2031.62,396.36"/>
<ellipse cx="1907.75" cy="312.03" rx="12.66" ry="18.59" transform="rotate(-33 1907.75 312.03)"/>
<path d="M1898.59,293.71 C1901.56,288.86 1905.87,285.9 1912.33,285.63 C1918.8,285.63 1925.27,290.48 1930.12,298.02 C1933.89,304.49 1935.5,310.95 1934.43,317.42 C1933.35,321.19 1929.58,324.43 1924.73,326.85"/>
<path d="M1911.52,296.41 L1919.07,290.05 M1923.38,310.95 L1932.54,305.03 M1924.46,313.38 L1925,323.89"/>
<path d="M1898.32,293.17 C1898.86,287.78 1903.17,281.86 1910.18,280.24 C1917.72,279.16 1926.88,283.47 1933.35,291.56 C1938.74,298.56 1941.43,307.72 1940.62,315.8 C1939.82,321.73 1935.5,326.04 1930.12,326.58 L1925.8,326.31"/>
<path d="M1927.42,285.63 C1932.81,289.94 1937.12,296.94 1938.74,305.57 C1939.82,313.11 1938.2,318.5 1933.89,321.73" stroke-width="1.6"/>
<!--CHUNK5-->
</g>
<line x1="2129.3" y1="0" x2="2129.3" y2="1299" stroke="#a4a4a4" stroke-width="1.4"/>
</svg>
</body></html>
